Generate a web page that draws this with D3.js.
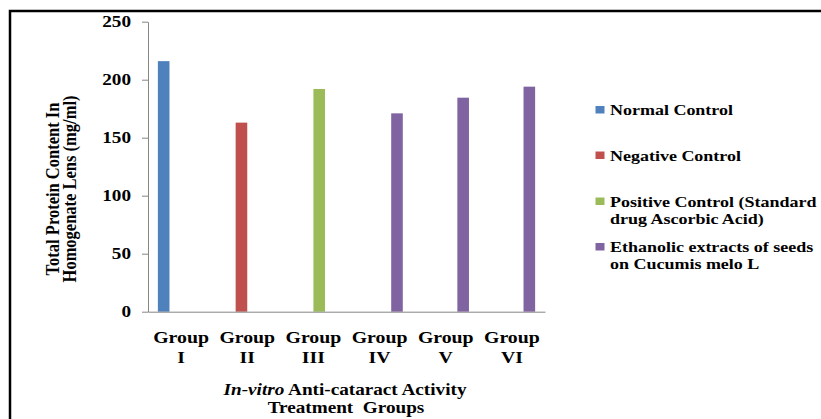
<!DOCTYPE html>
<html>
<head>
<meta charset="utf-8">
<script src="https://cdn.jsdelivr.net/npm/d3@7"></script>
<style>
  html, body { margin: 0; padding: 0; background: #fff; overflow: hidden; }
  svg { display: block; }
</style>
</head>
<body>
<svg id="chart" width="821" height="419"></svg>
<script>
// ---- data ----
const groups = ["Group I", "Group II", "Group III", "Group IV", "Group V", "Group VI"];
const values = [216, 163, 192, 171, 184.5, 194];
const seriesOfGroup = [0, 1, 2, 3, 3, 3];
const seriesNames = [
  "Normal Control",
  "Negative Control",
  "Positive Control (Standard drug Ascorbic Acid)",
  "Ethanolic extracts of seeds on Cucumis melo L"
];
const legendLines = [
  ["Normal Control"],
  ["Negative Control"],
  ["Positive Control (Standard", "drug Ascorbic Acid)"],
  ["Ethanolic extracts of seeds", "on Cucumis melo L"]
];
const seriesColors = ["#4F81BD", "#C0504D", "#9BBB59", "#8064A2"];
const yTicks = [0, 50, 100, 150, 200, 250];
const yTitleLines = ["Total Protein Content In", "Homogenate Lens (mg/ml)"];
const xTitleLine1 = [{ t: "In-vitro", italic: true }, { t: " Anti-cataract Activity", italic: false }];
const xTitleLine2 = "Treatment\u00a0 Groups";

// ---- layout ----
const SX = 1.2; // horizontal stretch of the original picture
const FONT = "'Liberation Serif', 'Times New Roman', serif";
const plot = { left: 148, right: 545, top: 21.7, bottom: 311.7 };
const axisColor = "#868686";

const svg = d3.select("#chart");

// frame
svg.append("rect")
  .attr("x", 10).attr("y", 11)
  .attr("width", 900).attr("height", 500)
  .attr("fill", "none").attr("stroke", "#000").attr("stroke-width", 2.5);

const x0 = d3.scaleBand().domain(groups).range([plot.left, plot.right]).padding(0);
const bw = x0.bandwidth();
const gapRatio = 1.7;
const barW = bw / (seriesNames.length + gapRatio);
const x1 = d3.scaleBand().domain(d3.range(seriesNames.length))
  .range([barW * gapRatio / 2, bw - barW * gapRatio / 2]).padding(0);
const y = d3.scaleLinear().domain([0, 250]).range([plot.bottom, plot.top]);

// helper: stretched text
function sText(parent, x, y, str, size, anchor, rotate) {
  const g = parent.append("g")
    .attr("transform", `translate(${x},${y}) scale(${SX},1)` + (rotate ? ` rotate(${rotate})` : ""));
  return g.append("text")
    .attr("font-family", FONT).attr("font-weight", "bold")
    .attr("font-size", size).attr("fill", "#000")
    .attr("text-anchor", anchor || "start")
    .text(str);
}

// bars
svg.append("g").selectAll("rect")
  .data(groups.map((g, i) => ({ g, v: values[i], s: seriesOfGroup[i] })))
  .join("rect")
  .attr("x", d => x0(d.g) + x1(d.s))
  .attr("width", x1.bandwidth())
  .attr("y", d => y(d.v))
  .attr("height", d => y(0) - y(d.v))
  .attr("fill", d => seriesColors[d.s]);

// y axis
const yAxisG = svg.append("g")
  .attr("transform", `translate(${plot.left},0)`)
  .call(d3.axisLeft(y).tickValues(yTicks).tickSize(6).tickSizeOuter(0));
yAxisG.select(".domain").attr("stroke", axisColor);
yAxisG.selectAll(".tick line").attr("stroke", axisColor);
yAxisG.selectAll(".tick text").remove();
yTicks.forEach(t => {
  sText(yAxisG, -17, y(t), String(t), 16, "end").attr("dy", "0.34em");
});

// x axis
const xAxisG = svg.append("g")
  .attr("transform", `translate(0,${plot.bottom})`)
  .call(d3.axisBottom(x0).tickSize(0).tickSizeOuter(0).tickFormat(""));
xAxisG.select(".domain").attr("stroke", axisColor);

// category labels
groups.forEach(g => {
  const parts = g.split(" ");
  const cx = x0(g) + bw / 2;
  sText(svg, cx, 343, parts[0], 16.5, "middle");
  sText(svg, cx, 363, parts[1], 16.5, "middle");
});

// y title
yTitleLines.forEach((line, i) => {
  sText(svg, 58.5 + i * 17.5, 189, line, 16.5, "middle", -90);
});

// x title
const xt = sText(svg, 345, 395, "", 16, "middle");
xTitleLine1.forEach(p => {
  xt.append("tspan").attr("font-style", p.italic ? "italic" : "normal").text(p.t);
});
sText(svg, 346, 413, xTitleLine2, 16, "middle");

// legend
const legendBase = [115, 160.5, 206.5, 252];
legendLines.forEach((lines, i) => {
  svg.append("rect")
    .attr("x", 595.5).attr("y", legendBase[i] - 9)
    .attr("width", 9).attr("height", 7.5)
    .attr("fill", seriesColors[i]);
  lines.forEach((ln, j) => {
    sText(svg, 610, legendBase[i] + j * 17, ln, 15, "start");
  });
});
</script>
</body>
</html>
